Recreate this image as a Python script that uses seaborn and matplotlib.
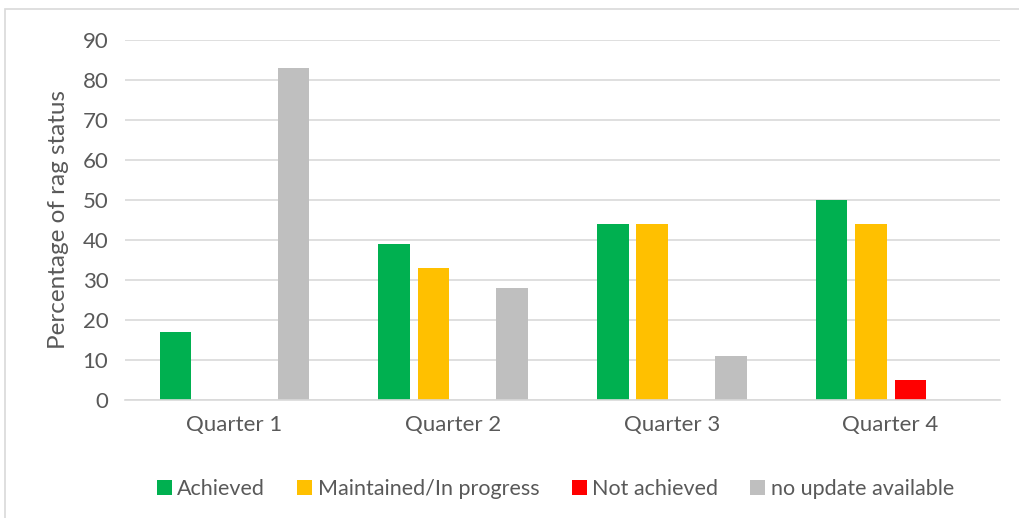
import matplotlib
matplotlib.use("Agg")
import matplotlib.pyplot as plt
import seaborn as sns
import pandas as pd
from matplotlib.patches import Rectangle, Patch

quarters = ["Quarter 1", "Quarter 2", "Quarter 3", "Quarter 4"]
statuses = ["Achieved", "Maintained/In progress", "Not achieved", "no update available"]
achieved = [17, 39, 44, 50]
maintained = [0, 33, 44, 44]
not_achieved = [0, 0, 0, 5]
no_update = [83, 28, 11, 0]
colors = ["#00B050", "#FFC000", "#FF0000", "#BFBFBF"]
yticks = [0, 10, 20, 30, 40, 50, 60, 70, 80, 90]

rows = []
for s, vals in zip(statuses, [achieved, maintained, not_achieved, no_update]):
    for q, v in zip(quarters, vals):
        rows.append({"Quarter": q, "Status": s, "Value": v})
df = pd.DataFrame(rows)

sns.set_style("white")
plt.rcParams["font.family"] = ["Lato", "DejaVu Sans"]
text_color = "#595959"

fig = plt.figure(figsize=(10.19, 5.18), dpi=100)
ax = fig.add_axes([0.1227, 0.2278, 0.8586, 0.695])

sns.barplot(data=df, x="Quarter", y="Value", hue="Status", order=quarters,
            hue_order=statuses, palette=colors, width=0.72, gap=0.2,
            linewidth=0, saturation=1, ax=ax, legend=False, errorbar=None)

ax.set_ylim(0, 90)
ax.set_yticks(yticks)
ax.set_xlim(-0.5, 3.5)
ax.grid(axis="y", color="#D9D9D9", linewidth=1.2, zorder=0)
ax.set_axisbelow(True)
for sp in ["top", "right", "left"]:
    ax.spines[sp].set_visible(False)
ax.spines["bottom"].set_color("#D9D9D9")
ax.spines["bottom"].set_linewidth(1.2)
ax.tick_params(axis="both", length=0, labelsize=16, colors=text_color, pad=12)
ax.tick_params(axis="x", pad=11)
ax.set_xlabel("")
ax.set_ylabel("Percentage of rag status", fontsize=17.5, color=text_color, labelpad=10)

handles = [Patch(facecolor=c, edgecolor="none") for c in colors]
fig.legend(handles, statuses, loc="center", bbox_to_anchor=(0.545, 0.056), ncol=4,
           frameon=False, fontsize=15.5, labelcolor=text_color, handlelength=0.7,
           handleheight=0.7, handletextpad=0.25, columnspacing=1.5)

fig.patches.append(Rectangle((5 / 1019, -0.01), 1.02, 1 - 9 / 518 + 0.01,
                             transform=fig.transFigure, fill=False,
                             edgecolor="#D9D9D9", linewidth=1.2))

fig.savefig("out.png", dpi=100)
